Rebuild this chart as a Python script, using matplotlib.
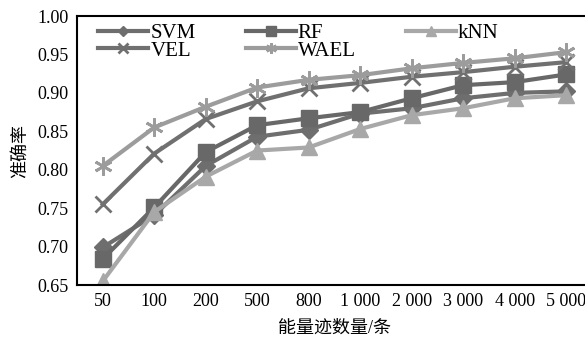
import matplotlib
matplotlib.use("Agg")
import matplotlib.pyplot as plt

# 能量迹数量 vs 准确率
sizes = ["50", "100", "200", "500", "800", "1 000", "2 000", "3 000", "4 000", "5 000"]
svm = [0.699, 0.741, 0.805, 0.843, 0.852, 0.873, 0.880, 0.893, 0.900, 0.902]
rf = [0.684, 0.751, 0.823, 0.858, 0.867, 0.875, 0.893, 0.910, 0.914, 0.924]
knn = [0.655, 0.745, 0.791, 0.825, 0.829, 0.853, 0.871, 0.880, 0.893, 0.897]
vel = [0.755, 0.821, 0.866, 0.889, 0.906, 0.913, 0.921, 0.927, 0.934, 0.940]
wael = [0.805, 0.855, 0.882, 0.907, 0.917, 0.923, 0.932, 0.939, 0.945, 0.953]

plt.rcParams["font.family"] = ["Liberation Serif", "Noto Sans CJK SC"]

fig = plt.figure(figsize=(5.85, 3.41), dpi=100)
ax = fig.add_axes([0.1316, 0.164, 0.880, 0.789])

x = list(range(len(sizes)))
lw = 3
h_svm, = ax.plot(x, svm, color="#6e6e6e", lw=lw, marker="D", ms=9, label="SVM")
h_rf, = ax.plot(x, rf, color="#686868", lw=lw, marker="s", ms=12, label="RF")
h_knn, = ax.plot(x, knn, color="#a8a8a8", lw=lw, marker="^", ms=12, label="kNN")
h_vel, = ax.plot(x, vel, color="#707070", lw=lw, marker="x", ms=12, mew=2, label="VEL")
h_wael, = ax.plot(x, wael, color="#9c9c9c", lw=lw, marker=(6, 2, 0), ms=13, mew=2, label="WAEL")

ax.set_xlim(-0.5, 9.5)
ax.set_ylim(0.65, 1.00)
ax.set_xticks(x)
ax.set_xticklabels(sizes)
ax.set_yticks([0.65, 0.70, 0.75, 0.80, 0.85, 0.90, 0.95, 1.00])
ax.set_yticklabels(["%.2f" % v for v in ax.get_yticks()])
ax.tick_params(length=0, labelsize=13, pad=6)
for s in ax.spines.values():
    s.set_linewidth(1.5)

ax.set_xlabel("能量迹数量/条", fontsize=13, labelpad=7)
ax.set_ylabel("准确率", fontsize=13, labelpad=6)

# 图例按行排：SVM RF kNN / VEL WAEL（matplotlib 按列填充，所以重排）
handles = [h_svm, h_vel, h_rf, h_wael, h_knn]
ax.legend(handles, [h.get_label() for h in handles],
          loc="upper left", bbox_to_anchor=(0.025, 1.003), ncol=3, frameon=False,
          fontsize=15, handlelength=2.4, handletextpad=0.1, columnspacing=2.4,
          labelspacing=-0.1, markerscale=0.6, borderaxespad=0)

fig.savefig("out.png", dpi=100)
